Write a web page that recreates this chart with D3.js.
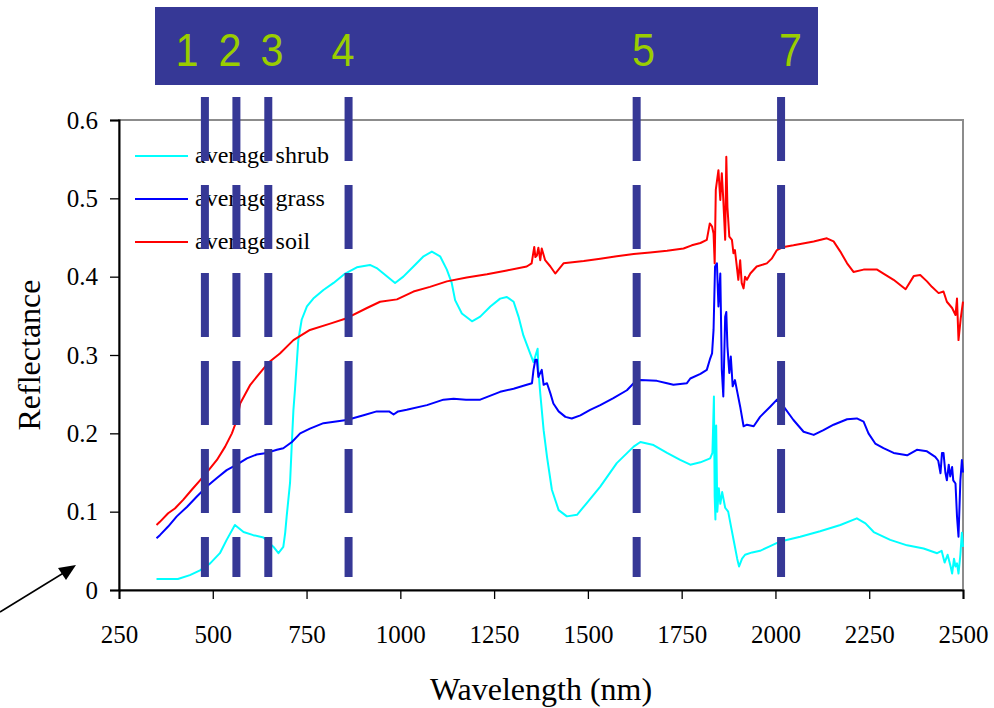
<!DOCTYPE html>
<html>
<head>
<meta charset="utf-8">
<script src="https://cdn.jsdelivr.net/npm/d3@7"></script>
<style>
  body { margin: 0; background: #fff; }
  svg { display: block; }
</style>
</head>
<body>
<svg id="chart" width="994" height="708"></svg>
<script>
// ---------------- data ----------------
const seriesNames = ["average shrub", "average grass", "average soil"];
const seriesColors = ["#00ffff", "#0000ff", "#ff0000"];

const xTicks = [250, 500, 750, 1000, 1250, 1500, 1750, 2000, 2250, 2500];
const yTicks = [0, 0.1, 0.2, 0.3, 0.4, 0.5, 0.6];

// Landsat TM band markers (wavelength, nm)
const bandLabels = ["1", "2", "3", "4", "5", "7"];
const bandWavelengths = [479, 563, 648, 862, 1630, 2015];
const bandLabelWavelengths = [431, 546, 658, 847, 1648, 2040];

// [wavelength nm, reflectance]
const shrub = [
  [350,0.014],[407,0.014],[439,0.019],[466,0.025],[493,0.034],[519,0.047],[537,0.064],[559,0.083],
  [582,0.074],[608,0.070],[635,0.067],[662,0.055],[675,0.047],[688,0.055],[693,0.073],[697,0.094],
  [706,0.137],[711,0.190],[715,0.230],[719,0.255],[728,0.319],[737,0.345],[751,0.362],[768,0.372],
  [795,0.383],[822,0.392],[853,0.404],[884,0.412],[919,0.415],[937,0.411],[955,0.404],[986,0.392],
  [1008,0.400],[1035,0.413],[1062,0.426],[1084,0.432],[1106,0.426],[1124,0.409],[1137,0.392],[1146,0.370],
  [1164,0.353],[1191,0.343],[1213,0.349],[1240,0.362],[1266,0.372],[1284,0.374],[1302,0.368],[1315,0.349],
  [1328,0.325],[1346,0.302],[1355,0.291],[1362,0.302],[1366,0.308],[1368,0.281],[1373,0.251],[1382,0.204],
  [1391,0.170],[1404,0.128],[1422,0.102],[1444,0.094],[1471,0.096],[1497,0.111],[1533,0.132],[1577,0.162],
  [1622,0.183],[1640,0.189],[1675,0.185],[1711,0.175],[1746,0.166],[1773,0.160],[1800,0.163],[1826,0.168],
  [1832,0.175],[1836,0.247],[1838,0.120],[1840,0.090],[1842,0.210],[1845,0.100],[1849,0.130],[1853,0.110],
  [1858,0.125],[1866,0.105],[1874,0.100],[1882,0.080],[1890,0.060],[1898,0.040],[1903,0.030],[1911,0.040],
  [1919,0.045],[1938,0.048],[1959,0.050],[1986,0.056],[2013,0.062],[2066,0.068],[2119,0.075],[2173,0.083],
  [2217,0.0915],[2240,0.085],[2262,0.074],[2306,0.064],[2351,0.057],[2395,0.053],[2431,0.047],[2443,0.050],
  [2451,0.035],[2459,0.045],[2467,0.030],[2471,0.021],[2476,0.040],[2480,0.030],[2484,0.034],[2488,0.021],
  [2493,0.045],[2497,0.073],[2500,0.055]
];

const grass = [
  [350,0.066],[359,0.070],[381,0.081],[404,0.094],[431,0.106],[457,0.119],[484,0.132],[511,0.143],
  [537,0.153],[564,0.160],[591,0.168],[617,0.173],[644,0.175],[671,0.179],[688,0.181],[711,0.189],
  [733,0.200],[759,0.206],[795,0.213],[857,0.217],[902,0.223],[937,0.228],[970,0.228],[982,0.224],
  [994,0.228],[1017,0.230],[1071,0.236],[1115,0.243],[1142,0.244],[1175,0.243],[1213,0.243],[1266,0.253],
  [1302,0.257],[1337,0.262],[1351,0.264],[1355,0.281],[1360,0.294],[1364,0.294],[1368,0.272],[1377,0.281],
  [1382,0.262],[1391,0.264],[1400,0.251],[1408,0.238],[1422,0.228],[1440,0.221],[1457,0.219],[1480,0.223],
  [1506,0.230],[1533,0.236],[1568,0.245],[1604,0.255],[1622,0.264],[1640,0.268],[1684,0.267],[1711,0.264],
  [1728,0.262],[1764,0.264],[1773,0.270],[1800,0.276],[1817,0.281],[1825,0.294],[1831,0.302],[1835,0.332],
  [1839,0.413],[1844,0.417],[1848,0.362],[1853,0.404],[1857,0.281],[1861,0.247],[1866,0.349],[1869,0.355],
  [1872,0.311],[1877,0.277],[1881,0.298],[1886,0.260],[1892,0.268],[1899,0.251],[1906,0.234],[1915,0.209],
  [1924,0.211],[1942,0.209],[1959,0.221],[1986,0.234],[2004,0.243],[2022,0.234],[2048,0.217],[2075,0.202],
  [2102,0.198],[2128,0.204],[2155,0.211],[2191,0.218],[2217,0.219],[2235,0.215],[2248,0.200],[2266,0.187],
  [2288,0.181],[2315,0.175],[2351,0.172],[2377,0.179],[2404,0.177],[2426,0.170],[2434,0.165],[2440,0.149],
  [2444,0.175],[2448,0.175],[2453,0.150],[2457,0.140],[2462,0.160],[2466,0.145],[2471,0.157],[2474,0.140],
  [2480,0.136],[2484,0.094],[2488,0.068],[2493,0.140],[2497,0.166],[2500,0.150]
];

const soil = [
  [350,0.083],[359,0.087],[381,0.098],[399,0.104],[421,0.115],[444,0.128],[466,0.140],[489,0.153],
  [511,0.166],[533,0.183],[551,0.200],[564,0.217],[573,0.238],[600,0.262],[622,0.275],[648,0.290],
  [679,0.302],[715,0.319],[759,0.332],[813,0.340],[857,0.347],[911,0.360],[946,0.368],[991,0.371],
  [1035,0.381],[1079,0.387],[1124,0.394],[1177,0.399],[1231,0.403],[1284,0.408],[1337,0.413],[1350,0.417],
  [1357,0.438],[1360,0.425],[1364,0.427],[1368,0.437],[1373,0.421],[1377,0.436],[1386,0.421],[1400,0.413],
  [1413,0.404],[1435,0.417],[1489,0.420],[1533,0.423],[1577,0.426],[1622,0.429],[1666,0.431],[1711,0.433],
  [1755,0.436],[1777,0.440],[1800,0.443],[1817,0.447],[1825,0.468],[1831,0.464],[1835,0.455],[1838,0.417],
  [1841,0.511],[1848,0.536],[1853,0.498],[1857,0.532],[1861,0.498],[1866,0.447],[1869,0.553],[1872,0.489],
  [1877,0.451],[1884,0.447],[1888,0.430],[1892,0.434],[1897,0.413],[1901,0.396],[1906,0.421],[1910,0.392],
  [1915,0.385],[1919,0.400],[1924,0.396],[1933,0.404],[1950,0.413],[1977,0.417],[1990,0.423],[2004,0.434],
  [2022,0.438],[2048,0.440],[2102,0.445],[2137,0.449],[2155,0.445],[2173,0.432],[2191,0.417],[2208,0.406],
  [2235,0.409],[2271,0.409],[2288,0.404],[2315,0.396],[2347,0.384],[2369,0.401],[2386,0.402],[2404,0.394],
  [2417,0.387],[2435,0.379],[2448,0.381],[2457,0.368],[2471,0.360],[2480,0.351],[2484,0.372],[2488,0.319],
  [2494,0.347],[2500,0.368]
];

const allSeries = [shrub, grass, soil];

// ---------------- drawing ----------------
const svg = d3.select("#chart");
const margin = { left: 119, right: 994 - 963, top: 120, bottom: 708 - 590 };
const W = 994, H = 708;

const x = d3.scaleLinear().domain([250, 2500]).range([margin.left, W - margin.right]);
const y = d3.scaleLinear().domain([0, 0.6]).range([H - margin.bottom, margin.top]);

const serif = "'Liberation Serif', 'Times New Roman', serif";

// plot area border (gray top/right)
svg.append("rect")
  .attr("x", x(250)).attr("y", y(0.6))
  .attr("width", x(2500) - x(250)).attr("height", y(0) - y(0.6))
  .attr("fill", "#fff").attr("stroke", "#8c8c8c").attr("stroke-width", 2);

// series
const line = d3.line().x(d => x(d[0])).y(d => y(d[1]));
svg.append("g").selectAll("path")
  .data(allSeries)
  .join("path")
  .attr("d", line)
  .attr("fill", "none")
  .attr("stroke", (d, i) => seriesColors[i])
  .attr("stroke-width", 2)
  .attr("stroke-linejoin", "round");

// axes
const yAxis = d3.axisLeft(y).tickValues(yTicks).tickSize(9).tickPadding(12)
  .tickFormat(d => d3.format("")(+d.toFixed(1)));
const gy = svg.append("g").attr("transform", `translate(${x(250)},0)`).call(yAxis);
const xAxis = d3.axisBottom(x).tickValues(xTicks).tickSize(9).tickPadding(26).tickFormat(d3.format("d"));
const gx = svg.append("g").attr("transform", `translate(0,${y(0)})`).call(xAxis);
[gx, gy].forEach(g => {
  g.attr("font-family", null).attr("font-size", null);
  g.select(".domain").attr("stroke", "#000").attr("stroke-width", 2);
  g.selectAll(".tick line").attr("stroke", "#000").attr("stroke-width", 1.3);
  g.selectAll("text")
    .style("font-family", serif).style("font-size", "25px").attr("fill", "#000");
});
gy.selectAll(".tick text").attr("x", -21);

// axis titles
svg.append("text")
  .attr("x", (x(250) + x(2500)) / 2).attr("y", 700)
  .attr("text-anchor", "middle")
  .style("font-family", serif).style("font-size", "32px")
  .text("Wavelength (nm)");
svg.append("text")
  .attr("transform", `translate(40,${y(0.3)}) rotate(-90)`)
  .attr("text-anchor", "middle")
  .style("font-family", serif).style("font-size", "32px")
  .text("Reflectance");

// legend
const legend = svg.append("g");
seriesNames.forEach((name, i) => {
  const ly = 156 + i * 43;
  legend.append("line")
    .attr("x1", 135).attr("x2", 188).attr("y1", ly).attr("y2", ly)
    .attr("stroke", seriesColors[i]).attr("stroke-width", 2);
  legend.append("text")
    .attr("x", 195).attr("y", ly + 7)
    .style("font-family", serif).style("font-size", "24px")
    .text(name);
});

// band marker dashed bars (drawn on top)
const bandColor = "#363896";
svg.append("g").selectAll("line")
  .data(bandWavelengths)
  .join("line")
  .attr("x1", d => x(d)).attr("x2", d => x(d))
  .attr("y1", 97).attr("y2", 577)
  .attr("stroke", bandColor).attr("stroke-width", 8)
  .attr("stroke-dasharray", "64,24");

// top band
svg.append("rect")
  .attr("x", 155).attr("y", 7).attr("width", 663).attr("height", 78)
  .attr("fill", bandColor);
svg.append("g").selectAll("text")
  .data(bandLabels)
  .join("text")
  .attr("transform", (d, i) => `translate(${x(bandLabelWavelengths[i])},66) scale(0.88,1)`)
  .attr("text-anchor", "middle")
  .style("font-family", "'Liberation Sans Narrow', 'Liberation Sans', Arial, sans-serif")
  .style("font-size", "47px")
  .attr("fill", "#9acd00")
  .text(d => d);

// arrow
svg.append("line")
  .attr("x1", 0).attr("y1", 612).attr("x2", 70).attr("y2", 569)
  .attr("stroke", "#000").attr("stroke-width", 1.5);
svg.append("path")
  .attr("d", "M76,565 L58,568 L66,580 Z").attr("fill", "#000");
</script>
</body>
</html>
